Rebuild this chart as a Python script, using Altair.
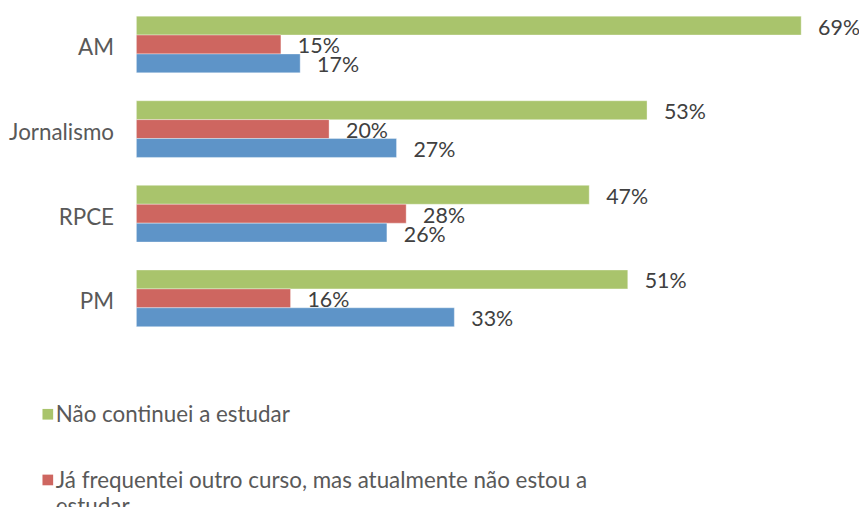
import altair as alt
import pandas as pd

categories = ["AM", "Jornalismo", "RPCE", "PM"]
series = [
    "Não continuei a estudar",
    "Já frequentei outro curso, mas atualmente não estou a estudar",
    "Estou atualmente a estudar",
]
green_vals = [69, 53, 47, 51]
red_vals = [15, 20, 28, 16]
blue_vals = [17, 27, 26, 33]
colors = ["#A9C46C", "#CE6660", "#5E94C8"]

legend_lines = [
    "Não continuei a estudar",
    "Já frequentei outro curso, mas atualmente não estou a\nestudar",
]

rows = []
for s, vals in zip(series, [green_vals, red_vals, blue_vals]):
    for c, v in zip(categories, vals):
        rows.append({"cat": c, "series": s, "value": v, "label": f"{v}%"})
df = pd.DataFrame(rows)

FONT = "Lato"

x = alt.X("value:Q", scale=alt.Scale(domain=[0, 75], nice=False, zero=True), axis=None)
y = alt.Y(
    "cat:N",
    sort=categories,
    scale=alt.Scale(paddingInner=0.33, paddingOuter=0),
    axis=alt.Axis(
        title=None, ticks=False, domain=False, labelPadding=23,
        labelFont=FONT, labelFontSize=22.5, labelColor="#595959", labelOffset=4,
    ),
)
yoff = alt.YOffset("series:N", sort=series, scale=alt.Scale(paddingInner=0, paddingOuter=0))
color = alt.Color("series:N", sort=series, scale=alt.Scale(domain=series, range=colors), legend=None)

bars = alt.Chart(df).mark_bar(stroke="white", strokeWidth=0.6, strokeOpacity=0.6).encode(
    x=x, y=y, yOffset=yoff, color=color
)
texts = alt.Chart(df).mark_text(
    align="left", baseline="middle", dx=17, dy=3, font=FONT, fontSize=21.5, color="#404040"
).encode(x=x, y=y, yOffset=yoff, text="label:N")

layers = [bars, texts]

# manual legend (third entry falls outside the visible area)
leg_pos = [(-89, 400), (-89, 466)]
for (lx, ly), lab, col in zip(leg_pos, legend_lines, colors[:2]):
    ldf = pd.DataFrame({"t": [lab]})
    sq = alt.Chart(ldf).mark_square(size=115, color=col, opacity=1).encode(
        x=alt.value(lx), y=alt.value(ly)
    )
    tx = alt.Chart(ldf).mark_text(
        align="left", baseline="middle", font=FONT, fontSize=22.5, color="#595959",
        lineBreak="\n", lineHeight=26,
    ).encode(x=alt.value(lx + 8), y=alt.value(ly + 1), text="t:N")
    layers += [sq, tx]

chart = alt.layer(*layers).properties(
    width=726, height=312,
    autosize=alt.AutoSizeParams(type="none"),
    padding={"left": 129, "top": 7, "right": 0, "bottom": 180},
).configure_view(stroke=None)

chart.save("out.html", embed_options={"renderer": "svg", "actions": False})
